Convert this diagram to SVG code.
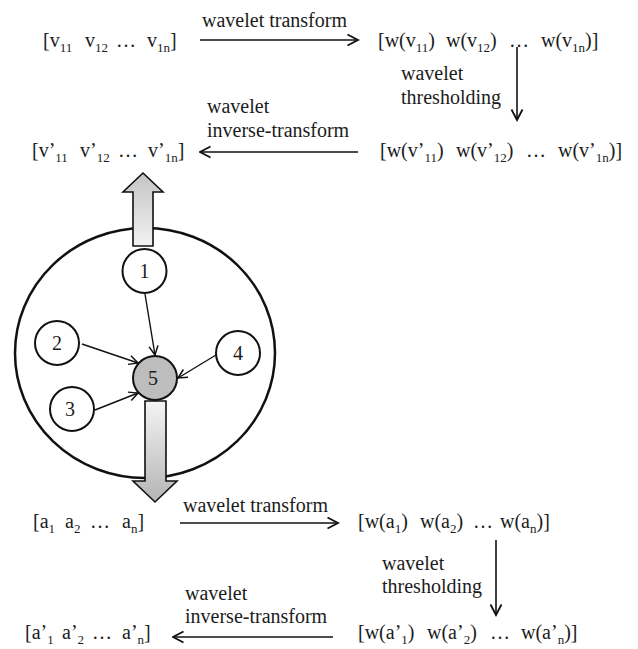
<svg xmlns="http://www.w3.org/2000/svg" width="638" height="649" viewBox="0 0 638 649" font-family="'Liberation Serif', 'Times New Roman', Times, 'DejaVu Serif', serif">
  <style>
    text { fill: #1c1c1c; }
    .f { font-size: 20px; }
    .s { font-size: 13px; }
    .lbl { font-size: 20px; }
    .num { font-size: 20px; text-anchor: middle; }
    .node { fill: #fff; stroke: #111; stroke-width: 2; }
    .node5 { fill: #bdbdbd; stroke: #111; stroke-width: 2; }
    .big { fill: #fff; stroke: #111; stroke-width: 2.5; }
    .conn { fill: none; stroke: #111; stroke-width: 1.6; marker-end: url(#ah); }
    .conn2 { fill: none; stroke: #111; stroke-width: 1.4; marker-end: url(#ah2); }
    .block { stroke: #111; stroke-width: 1.6; stroke-linejoin: miter; }
  </style>
  <defs>
    <marker id="ah" markerUnits="userSpaceOnUse" markerWidth="14" markerHeight="14" viewBox="0 0 14 14" refX="12.5" refY="7" orient="auto">
      <path d="M2,1.5 L12.5,7 L2,12.5" fill="none" stroke="#111" stroke-width="1.8"/>
    </marker>
    <marker id="ah2" markerUnits="userSpaceOnUse" markerWidth="12" markerHeight="12" viewBox="0 0 12 12" refX="10.5" refY="6" orient="auto">
      <path d="M1.5,1.5 L10.5,6 L1.5,10.5" fill="none" stroke="#111" stroke-width="1.5"/>
    </marker>
    <linearGradient id="gUp" x1="0" y1="0" x2="0" y2="1">
      <stop offset="0" stop-color="#c4c4c4"/>
      <stop offset="1" stop-color="#f2f2f2"/>
    </linearGradient>
    <linearGradient id="gDown" x1="0" y1="0" x2="0" y2="1">
      <stop offset="0" stop-color="#f4f4f4"/>
      <stop offset="1" stop-color="#b4b4b4"/>
    </linearGradient>
  </defs>

  <!-- formula nodes -->
  <g id="v-row">
    <text class="f" y="47"><tspan x="43">[v</tspan><tspan class="s" y="51.5">11</tspan><tspan x="85" y="47">v</tspan><tspan class="s" y="51.5">12</tspan><tspan x="116" y="47">…</tspan><tspan x="147">v</tspan><tspan class="s" y="51.5">1n</tspan><tspan y="47">]</tspan></text>
  </g>
  <g id="wv-row">
    <text class="f" y="47"><tspan x="378">[w(v</tspan><tspan class="s" y="51.5">11</tspan><tspan y="47">)</tspan><tspan x="446">w(v</tspan><tspan class="s" y="51.5">12</tspan><tspan y="47">)</tspan><tspan x="509">…</tspan><tspan x="541">w(v</tspan><tspan class="s" y="51.5">1n</tspan><tspan y="47">)]</tspan></text>
  </g>
  <g id="wvp-row">
    <text class="f" y="157"><tspan x="380">[w(v’</tspan><tspan class="s" y="161.5">11</tspan><tspan y="157">)</tspan><tspan x="456">w(v’</tspan><tspan class="s" y="161.5">12</tspan><tspan y="157">)</tspan><tspan x="526">…</tspan><tspan x="558">w(v’</tspan><tspan class="s" y="161.5">1n</tspan><tspan y="157">)]</tspan></text>
  </g>
  <g id="vp-row">
    <text class="f" y="157"><tspan x="32">[v’</tspan><tspan class="s" y="161.5">11</tspan><tspan x="80" y="157">v’</tspan><tspan class="s" y="161.5">12</tspan><tspan x="118" y="157">…</tspan><tspan x="148">v’</tspan><tspan class="s" y="161.5">1n</tspan><tspan y="157">]</tspan></text>
  </g>
  <g id="a-row">
    <text class="f" y="528"><tspan x="33">[a</tspan><tspan class="s" y="532.5">1</tspan><tspan x="65" y="528">a</tspan><tspan class="s" y="532.5">2</tspan><tspan x="90" y="528">…</tspan><tspan x="122">a</tspan><tspan class="s" y="532.5">n</tspan><tspan y="528">]</tspan></text>
  </g>
  <g id="wa-row">
    <text class="f" y="528"><tspan x="358">[w(a</tspan><tspan class="s" y="532.5">1</tspan><tspan y="528">)</tspan><tspan x="420">w(a</tspan><tspan class="s" y="532.5">2</tspan><tspan y="528">)</tspan><tspan x="473">…</tspan><tspan x="500">w(a</tspan><tspan class="s" y="532.5">n</tspan><tspan y="528">)]</tspan></text>
  </g>
  <g id="wap-row">
    <text class="f" y="639"><tspan x="358">[w(a’</tspan><tspan class="s" y="643.5">1</tspan><tspan y="639">)</tspan><tspan x="427">w(a’</tspan><tspan class="s" y="643.5">2</tspan><tspan y="639">)</tspan><tspan x="490">…</tspan><tspan x="521">w(a’</tspan><tspan class="s" y="643.5">n</tspan><tspan y="639">)]</tspan></text>
  </g>
  <g id="ap-row">
    <text class="f" y="639"><tspan x="25">[a’</tspan><tspan class="s" y="643.5">1</tspan><tspan x="62" y="639">a’</tspan><tspan class="s" y="643.5">2</tspan><tspan x="92" y="639">…</tspan><tspan x="122">a’</tspan><tspan class="s" y="643.5">n</tspan><tspan y="639">]</tspan></text>
  </g>

  <!-- cluster -->
  <g id="cluster">
    <ellipse class="big" cx="145" cy="353" rx="130" ry="125"/>
  </g>
  <g id="n1"><circle class="node" cx="144.5" cy="271" r="22"/><text class="num" x="144.5" y="278">1</text></g>
  <g id="n2"><circle class="node" cx="57" cy="343" r="22"/><text class="num" x="57" y="350">2</text></g>
  <g id="n3"><circle class="node" cx="72" cy="409" r="22"/><text class="num" x="70" y="416">3</text></g>
  <g id="n4"><circle class="node" cx="238" cy="353" r="22"/><text class="num" x="238" y="360">4</text></g>
  <g id="n5"><circle class="node5" cx="155" cy="378" r="22"/><text class="num" x="153" y="385">5</text></g>

  <!-- block arrows -->
  <g id="out-up">
    <polygon class="block" fill="url(#gUp)" points="133,246 133,192 123,192 143,173 163,192 153,192 153,246"/>
  </g>
  <g id="out-down">
    <polygon class="block" fill="url(#gDown)" points="145,401 166,401 166,481 177,481 155,502 133,481 145,481"/>
  </g>

  <!-- connectors -->
  <g id="connectors">
    <line class="conn" x1="200" y1="40" x2="358" y2="40"/>
    <line class="conn" x1="517" y1="47" x2="517" y2="120"/>
    <line class="conn" x1="358" y1="152" x2="200" y2="152"/>
    <line class="conn" x1="180" y1="523" x2="338" y2="523"/>
    <line class="conn" x1="496" y1="540" x2="496" y2="615"/>
    <line class="conn" x1="333" y1="637" x2="173" y2="637"/>
    <line class="conn2" x1="145" y1="294" x2="155" y2="355"/>
    <line class="conn2" x1="82" y1="344" x2="138" y2="363"/>
    <line class="conn2" x1="95" y1="410" x2="138" y2="393"/>
    <line class="conn2" x1="216" y1="355" x2="178" y2="378"/>
  </g>

  <!-- labels -->
  <g id="labels">
    <text class="lbl" x="202" y="27">wavelet transform</text>
    <text class="lbl" x="401" y="80">wavelet</text>
    <text class="lbl" x="401" y="104">thresholding</text>
    <text class="lbl" x="207" y="113">wavelet</text>
    <text class="lbl" x="207" y="137">inverse-transform</text>
    <text class="lbl" x="183" y="512">wavelet transform</text>
    <text class="lbl" x="382" y="570">wavelet</text>
    <text class="lbl" x="382" y="593">thresholding</text>
    <text class="lbl" x="185" y="600">wavelet</text>
    <text class="lbl" x="185" y="623">inverse-transform</text>
  </g>
</svg>
